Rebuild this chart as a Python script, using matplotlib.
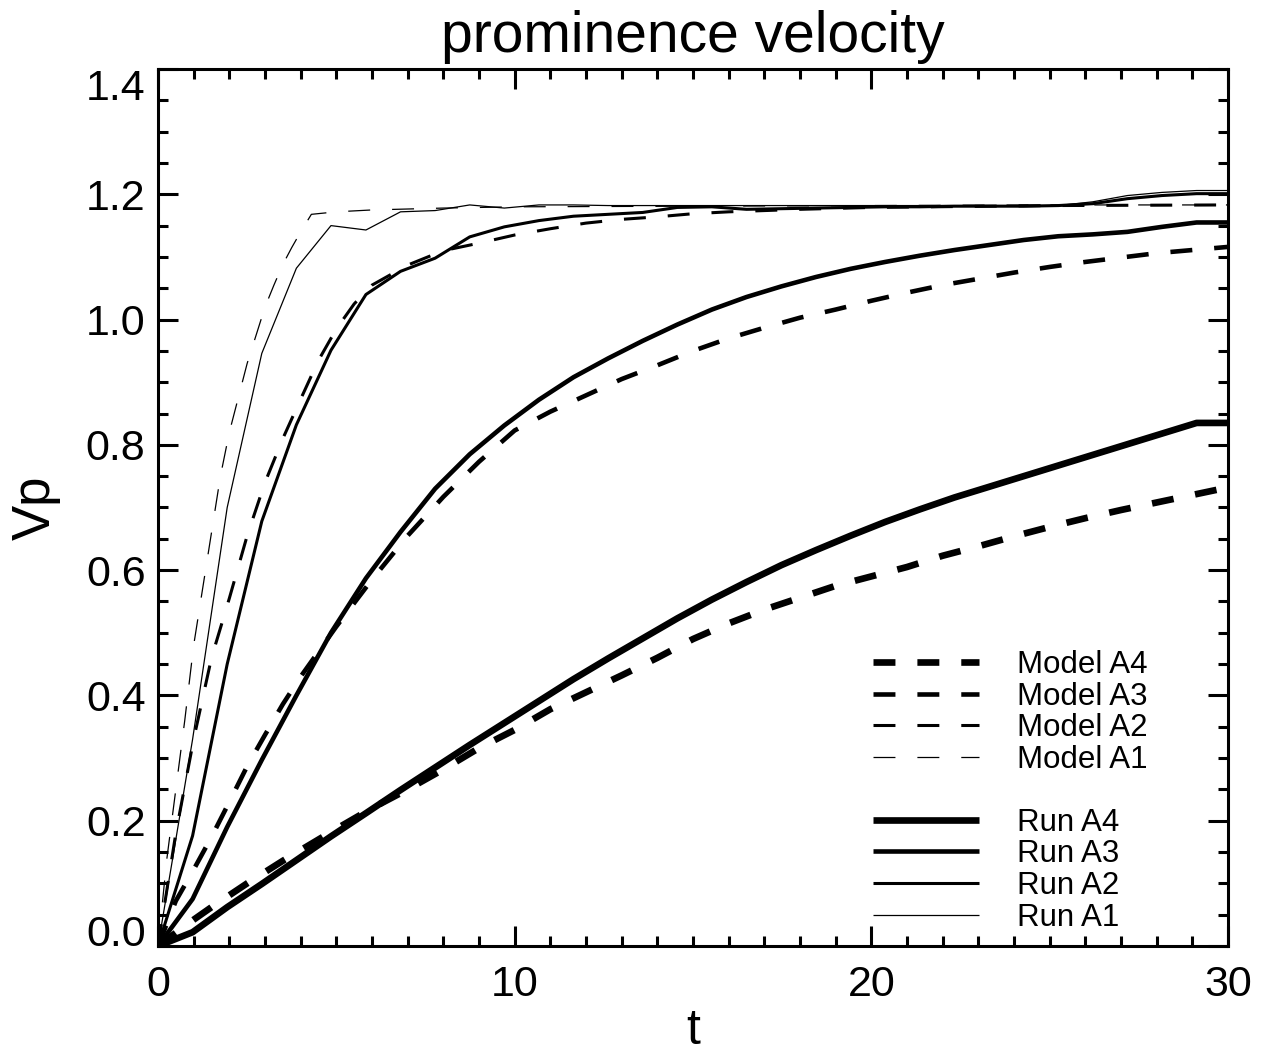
import matplotlib
matplotlib.use("Agg")
import matplotlib.pyplot as plt
from matplotlib.lines import Line2D

plt.rcParams['font.family'] = ['Liberation Sans', 'DejaVu Sans']
plt.rcParams['lines.scale_dashes'] = False

# ---------------- data ----------------
run_t = [0.0, 0.97, 1.94, 2.91, 3.88, 4.85, 5.83, 6.80, 7.77, 8.74, 9.71, 10.68,
         11.65, 12.62, 13.59, 14.56, 15.53, 16.50, 17.48, 18.45, 19.42, 20.39,
         21.36, 22.33, 23.30, 24.27, 25.24, 26.21, 27.18, 28.15, 29.12, 30.0]

run_a1 = [0.0, 0.33, 0.70, 0.946, 1.082, 1.150, 1.143, 1.172, 1.174, 1.183, 1.178, 1.183,
          1.183, 1.182, 1.182, 1.182, 1.182, 1.182, 1.182, 1.182, 1.182, 1.182,
          1.182, 1.182, 1.182, 1.182, 1.182, 1.188, 1.198, 1.203, 1.206, 1.206]
run_a2 = [0.0, 0.176, 0.45, 0.678, 0.832, 0.951, 1.040, 1.077, 1.098, 1.132, 1.148, 1.158,
          1.165, 1.168, 1.171, 1.179, 1.180, 1.176, 1.177, 1.178, 1.179, 1.180,
          1.180, 1.181, 1.181, 1.181, 1.182, 1.185, 1.193, 1.198, 1.201, 1.201]
run_a3 = [0.0, 0.075, 0.19, 0.297, 0.40, 0.50, 0.587, 0.661, 0.73, 0.785, 0.831, 0.872,
          0.908, 0.938, 0.966, 0.992, 1.016, 1.036, 1.053, 1.068, 1.081, 1.092,
          1.102, 1.111, 1.119, 1.127, 1.133, 1.136, 1.140, 1.148, 1.155, 1.155]
run_a4 = [0.0, 0.022, 0.062, 0.099, 0.137, 0.175, 0.212, 0.249, 0.285, 0.321, 0.356, 0.391,
          0.426, 0.459, 0.491, 0.523, 0.553, 0.581, 0.608, 0.632, 0.655, 0.677,
          0.697, 0.716, 0.733, 0.750, 0.767, 0.784, 0.801, 0.818, 0.835, 0.835]

model_a1_t = [0, 0.25, 0.5, 0.75, 1.0, 1.25, 1.5, 1.75, 2.0, 2.25, 2.5, 2.75, 3.0,
              3.25, 3.5, 3.75, 4.0, 4.3, 5, 6, 8, 10, 15, 20, 25, 30]
model_a1 = [0, 0.14, 0.25, 0.36, 0.48, 0.57, 0.66, 0.75, 0.82, 0.875, 0.93, 0.975, 1.02,
            1.055, 1.088, 1.115, 1.14, 1.168, 1.172, 1.175, 1.178, 1.18, 1.181, 1.182, 1.183, 1.183]

model_a2_t = [0, 0.5, 1, 1.5, 2, 2.5, 3, 3.5, 4, 4.5, 5, 5.5, 6, 7, 8, 9, 10, 11, 12,
              13, 14, 15, 16, 18, 20, 25, 30]
model_a2 = [0, 0.18, 0.33, 0.46, 0.555, 0.655, 0.74, 0.81, 0.873, 0.935, 0.985, 1.025,
            1.055, 1.087, 1.11, 1.122, 1.135, 1.145, 1.154, 1.16, 1.164, 1.169, 1.172,
            1.176, 1.179, 1.182, 1.183]

model_t = [0, 0.5, 1, 1.5, 2, 2.5, 3, 3.5, 4, 5, 6, 7, 8, 9, 10, 11, 12, 13, 14, 15,
           16, 17, 18, 19, 20, 21, 22, 23, 24, 25, 26, 27, 28, 29, 30]
model_a3 = [0, 0.072, 0.122, 0.174, 0.23, 0.287, 0.337, 0.386, 0.43, 0.51, 0.585, 0.655,
            0.717, 0.773, 0.823, 0.853, 0.879, 0.905, 0.927, 0.95, 0.97, 0.987, 1.003,
            1.016, 1.03, 1.043, 1.055, 1.065, 1.075, 1.084, 1.092, 1.099, 1.106, 1.111, 1.116]
model_a4 = [0, 0.021, 0.042, 0.062, 0.081, 0.10, 0.118, 0.136, 0.153, 0.187, 0.22, 0.25,
            0.282, 0.316, 0.345, 0.378, 0.405, 0.432, 0.46, 0.49, 0.515, 0.537, 0.556,
            0.575, 0.590, 0.605, 0.623, 0.638, 0.654, 0.669, 0.683, 0.696, 0.708, 0.72, 0.732]

x_ticks = [0, 10, 20, 30]
y_ticks = [0.0, 0.2, 0.4, 0.6, 0.8, 1.0, 1.2, 1.4]
y_ticklabels = ['0.0', '0.2', '0.4', '0.6', '0.8', '1.0', '1.2', '1.4']

# ---------------- styles ----------------
widths = {1: 0.9, 2: 2.2, 3: 3.3, 4: 4.8}
dash = (0, (15.8, 15.8))

fig = plt.figure(figsize=(12.69, 10.59), dpi=100)
ax = fig.add_axes([158/1269, 1-946/1059, (1228-158)/1269, (946-69)/1059])

ax.plot(model_a1_t, model_a1, color='black', lw=widths[1], ls=dash, dash_capstyle='butt', label='Model A1')
ax.plot(model_a2_t, model_a2, color='black', lw=widths[2], ls=dash, dash_capstyle='butt', label='Model A2')
ax.plot(model_t, model_a3, color='black', lw=widths[3], ls=dash, dash_capstyle='butt', label='Model A3')
ax.plot(model_t, model_a4, color='black', lw=widths[4], ls=dash, dash_capstyle='butt', label='Model A4')
ax.plot(run_t, run_a1, color='black', lw=widths[1], solid_capstyle='butt', label='Run A1')
ax.plot(run_t, run_a2, color='black', lw=widths[2], solid_capstyle='butt', label='Run A2')
ax.plot(run_t, run_a3, color='black', lw=widths[3], solid_capstyle='butt', label='Run A3')
ax.plot(run_t, run_a4, color='black', lw=widths[4], solid_capstyle='butt', label='Run A4')

ax.set_xlim(0, 30)
ax.set_ylim(0, 1.4)
ax.set_xticks(x_ticks)
ax.set_xticklabels([str(v) for v in x_ticks])
ax.set_yticks(y_ticks)
ax.set_yticklabels(y_ticklabels)
ax.set_xticks([v for v in range(0, 31) if v % 10 != 0], minor=True)
ax.set_yticks([0.05 * k for k in range(29) if k % 4 != 0], minor=True)

for s in ax.spines.values():
    s.set_linewidth(2.2)
ax.tick_params(which='both', direction='in', top=True, right=True, width=2.2, colors='black')
ax.tick_params(which='major', length=14.4)
ax.tick_params(which='minor', length=7.2)
ax.tick_params(axis='x', which='major', labelsize=31, pad=14)
ax.tick_params(axis='y', which='major', labelsize=31, pad=9)

labels = ax.get_yticklabels()
labels[0].set_verticalalignment('baseline')
labels[-1].set_verticalalignment('top')

ax.set_title('prominence velocity', fontsize=41, pad=12)
ax.set_xlabel('t', fontsize=36, labelpad=2)
ax.set_ylabel('Vp', fontsize=38, labelpad=18)

def mk(lw, ls):
    return Line2D([], [], color='black', lw=lw, ls=ls, dash_capstyle='butt', solid_capstyle='butt')

handles = [mk(widths[4], dash), mk(widths[3], dash), mk(widths[2], dash), mk(widths[1], dash),
           Line2D([], [], color='none'),
           mk(widths[4], '-'), mk(widths[3], '-'), mk(widths[2], '-'), mk(widths[1], '-')]
names = ['Model A4', 'Model A3', 'Model A2', 'Model A1', ' ',
         'Run A4', 'Run A3', 'Run A2', 'Run A1']
ax.legend(handles, names, loc='upper left', bbox_to_anchor=((873-158)/1070, (946-650)/877),
          frameon=False, fontsize=22.5, handlelength=3.4, handletextpad=1.2,
          labelspacing=0.05, borderpad=0, borderaxespad=0)

fig.savefig('out.png', dpi=100)
